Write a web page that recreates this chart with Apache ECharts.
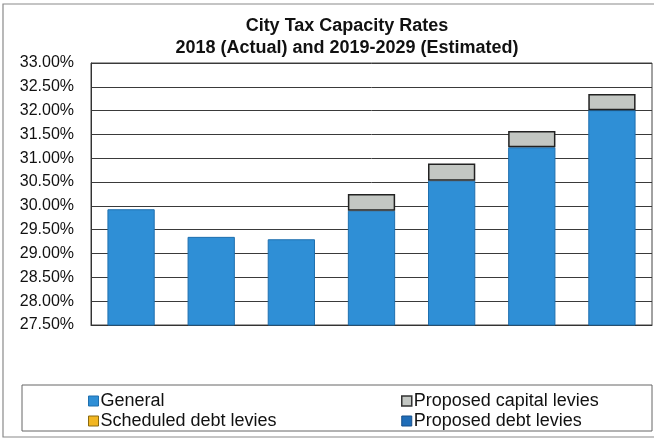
<!DOCTYPE html>
<html>
<head>
<meta charset="utf-8">
<script src="https://cdn.jsdelivr.net/npm/echarts@6/dist/echarts.min.js"></script>
<style>
  html, body { margin: 0; padding: 0; background: #fff; }
  #chart { width: 654px; height: 440px; }
</style>
</head>
<body>
<div id="chart"></div>
<script>
// Tax capacity rates, one bar per year shown (axis labels hidden)
const years = ['2018', '2019', '2021', '2023', '2025', '2027', '2029'];
const general = [29.93, 29.35, 29.30, 29.90, 30.53, 31.23, 32.01];
const scheduledDebt = [0, 0, 0, 0, 0, 0, 0];
const proposedCapital = [0, 0, 0, 0.35, 0.36, 0.34, 0.34];
const proposedDebt = [0, 0, 0, 0, 0, 0, 0];

const yMin = 27.5, yMax = 33.0, yStep = 0.5;

const FONT = '"Liberation Sans", Arial, sans-serif';
const skipZero = arr => arr.map(v => (v === 0 ? null : v));

const colors = {
  general: '#2f8fd6',
  generalEdge: '#1f6fae',
  scheduled: '#f2b621',
  capital: '#c3c7c3',
  debt: '#1f6db8'
};

const chart = echarts.init(document.getElementById('chart'), null, { renderer: 'canvas' });

chart.setOption({
  backgroundColor: '#ffffff',
  animation: false,
  title: {
    text: 'City Tax Capacity Rates\n2018 (Actual) and 2019-2029 (Estimated)',
    left: 342,
    top: 10,
    textAlign: 'center',
    textStyle: { fontFamily: FONT, fontSize: 18, fontWeight: 'bold', color: '#111', lineHeight: 22 }
  },
  grid: {
    left: 91, right: 2, top: 63, bottom: 115,
    show: true, borderColor: '#444', borderWidth: 1, containLabel: false
  },
  xAxis: {
    type: 'category',
    data: years,
    axisLine: { show: true, lineStyle: { color: '#333', width: 1 } },
    axisTick: { show: false },
    axisLabel: { show: false },
    splitLine: { show: false }
  },
  yAxis: {
    type: 'value',
    min: yMin, max: yMax, interval: yStep,
    axisLine: { show: true, lineStyle: { color: '#333', width: 1 } },
    axisTick: { show: false },
    axisLabel: {
      margin: 17,
      fontFamily: FONT, fontSize: 16, color: '#111',
      formatter: v => v.toFixed(2) + '%'
    },
    splitLine: { show: true, lineStyle: { color: '#3a3a3a', width: 1 } }
  },
  legend: [
    {
      orient: 'vertical', left: 83, top: 387, itemWidth: 10, itemHeight: 10, itemGap: 2,
      icon: 'rect',
      textStyle: { fontFamily: FONT, fontSize: 18, color: '#111', padding: [0, 0, 0, -3] },
      data: [
        { name: 'General', itemStyle: { color: colors.general, borderColor: colors.generalEdge, borderWidth: 1 } },
        { name: 'Scheduled debt levies', itemStyle: { color: colors.scheduled, borderColor: '#8a6a10', borderWidth: 1 } }
      ]
    },
    {
      orient: 'vertical', left: 396, top: 387, itemWidth: 10, itemHeight: 10, itemGap: 2,
      icon: 'rect',
      textStyle: { fontFamily: FONT, fontSize: 18, color: '#111', padding: [0, 0, 0, -3] },
      data: [
        { name: 'Proposed capital levies', itemStyle: { color: colors.capital, borderColor: '#333', borderWidth: 1.5 } },
        { name: 'Proposed debt levies', itemStyle: { color: colors.debt, borderColor: '#174f88', borderWidth: 1 } }
      ]
    }
  ],
  graphic: [
    // outer chart frame
    { type: 'rect', silent: true, z: -1, shape: { x: 3, y: 4, width: 700, height: 433 },
      style: { fill: 'none', stroke: '#8a8a8a', lineWidth: 1.2 } },
    // legend frame
    { type: 'rect', silent: true, z: -1, shape: { x: 22, y: 385, width: 630, height: 46 },
      style: { fill: 'none', stroke: '#666', lineWidth: 1 } }
  ],
  series: [
    {
      name: 'General', type: 'bar', stack: 'rate', barWidth: '59%',
      data: general,
      itemStyle: { color: colors.general, borderColor: colors.generalEdge, borderWidth: 1 }
    },
    {
      name: 'Scheduled debt levies', type: 'bar', stack: 'rate', barWidth: '59%',
      data: skipZero(scheduledDebt),
      itemStyle: { color: colors.scheduled, borderColor: '#8a6a10', borderWidth: 1 }
    },
    {
      name: 'Proposed capital levies', type: 'bar', stack: 'rate', barWidth: '59%',
      data: skipZero(proposedCapital),
      itemStyle: { color: colors.capital, borderColor: '#222', borderWidth: 1.5 }
    },
    {
      name: 'Proposed debt levies', type: 'bar', stack: 'rate', barWidth: '59%',
      data: skipZero(proposedDebt),
      itemStyle: { color: colors.debt, borderColor: '#174f88', borderWidth: 1 }
    }
  ]
});
</script>
</body>
</html>
